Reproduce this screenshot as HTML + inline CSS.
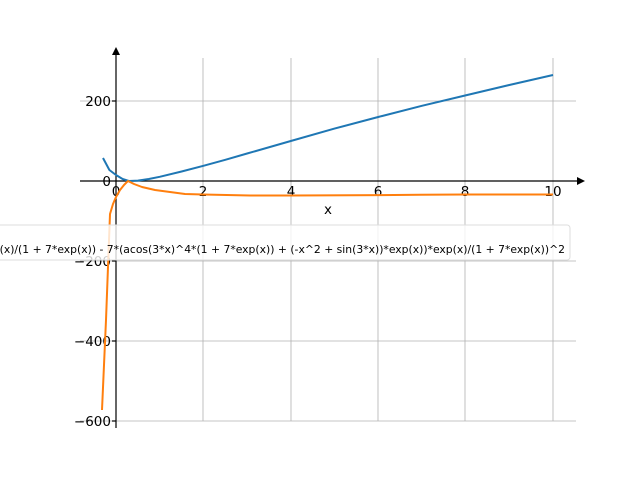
<!DOCTYPE html>
<html><head><meta charset="utf-8"><style>body{margin:0;background:#fff}svg{display:block}</style></head><body>
<svg width="640" height="480" xmlns="http://www.w3.org/2000/svg" font-family="DejaVu Sans, Liberation Sans, sans-serif">
<rect width="640" height="480" fill="#fff"/>
<g stroke="#b0b0b0" stroke-width="0.8">
<line x1="203" y1="58" x2="203" y2="421"/><line x1="291" y1="58" x2="291" y2="421"/><line x1="378" y1="58" x2="378" y2="421"/><line x1="465" y1="58" x2="465" y2="421"/><line x1="553" y1="58" x2="553" y2="421"/>
<line x1="80" y1="101" x2="576" y2="101"/><line x1="80" y1="261" x2="576" y2="261"/><line x1="80" y1="341" x2="576" y2="341"/><line x1="80" y1="421" x2="576" y2="421"/>
</g>
<g stroke="#000" stroke-width="1.2">
<line x1="80" y1="181" x2="580" y2="181"/><line x1="116" y1="428" x2="116" y2="52"/>
<line x1="112" y1="101" x2="116" y2="101"/><line x1="112" y1="261" x2="116" y2="261"/><line x1="112" y1="341" x2="116" y2="341"/><line x1="112" y1="421" x2="116" y2="421"/>
</g>
<polygon points="585,181 577,177 577,185" fill="#000"/>
<polygon points="116,47 112,55 120,55" fill="#000"/>
<g font-size="13.5" fill="#000">
<text x="111" y="106" text-anchor="end">200</text>
<text x="111" y="186" text-anchor="end">0</text>
<text x="111" y="266" text-anchor="end">−200</text>
<text x="111" y="346" text-anchor="end">−400</text>
<text x="111" y="426" text-anchor="end">−600</text>
<text x="116" y="196" text-anchor="middle">0</text>
<text x="203" y="196" text-anchor="middle">2</text>
<text x="291" y="196" text-anchor="middle">4</text>
<text x="378" y="196" text-anchor="middle">6</text>
<text x="465" y="196" text-anchor="middle">8</text>
<text x="553" y="196" text-anchor="middle">10</text>
<text x="328" y="214" text-anchor="middle">x</text>
</g>
<polyline fill="none" stroke="#1f77b4" stroke-width="2" stroke-linejoin="round" points="103,158 109.4,170 116,175 122.6,179 129,181 137.9,180.6 148.8,179 159.7,176.8 181.6,171.5 203.4,165.8 225.3,159.8 247.1,153.5 290.8,141 334.5,128.6 378.2,117 421.9,105.8 465.6,95.4 509.3,85 553,75"/>
<polyline fill="none" stroke="#ff7f0e" stroke-width="2" stroke-linejoin="round" points="102,410 106,320 110,214 113,204 116,197 120,190 124,185 128,181 134,184 142,187 155,190 170,192 185,194 203,194.5 250,195.5 291,195.5 350,195.3 420,194.8 465,194.5 510,194.5 553,194.5"/>
<rect x="-10" y="225" width="580" height="35" rx="3" fill="#fff" fill-opacity="0.8" stroke="#ddd" stroke-width="1"/>
<text x="565" y="253" text-anchor="end" font-size="10.8" fill="#000">(-x^2 + sin(3*x))*exp(x)/(1 + 7*exp(x)) - 7*(acos(3*x)^4*(1 + 7*exp(x)) + (-x^2 + sin(3*x))*exp(x))*exp(x)/(1 + 7*exp(x))^2</text>
</svg>
</body></html>
